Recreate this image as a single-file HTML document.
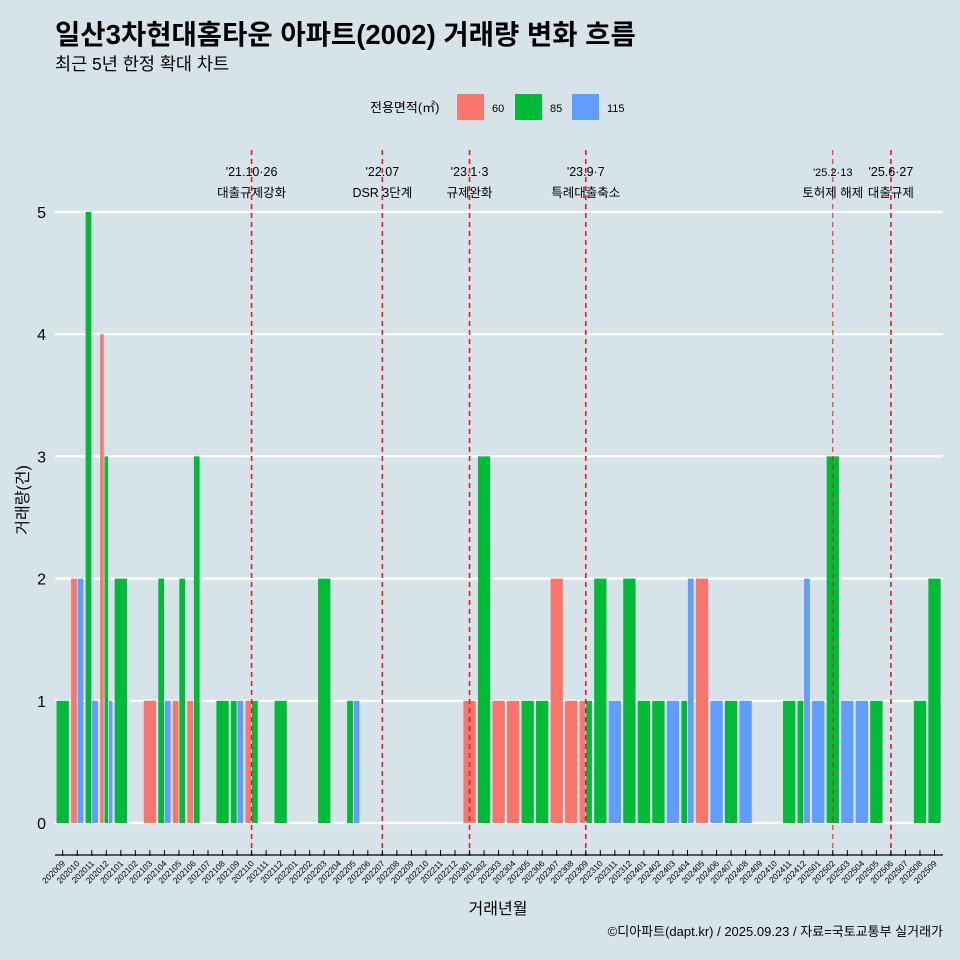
<!DOCTYPE html>
<html><head><meta charset="utf-8">
<style>
html,body{margin:0;padding:0;background:#d6e4ea;}
svg{display:block;font-family:"Liberation Sans","Noto Sans CJK KR",sans-serif;}
</style></head>
<body>
<svg id="chart" width="960" height="960" viewBox="0 0 960 960">
<rect x="0" y="0" width="960" height="960" fill="#d6e4ea"/>
<text x="55" y="44" font-size="27.5" font-weight="bold" fill="#000">일산3차현대홈타운 아파트(2002) 거래량 변화 흐름</text>
<text x="55" y="70" font-size="17.5" fill="#000">최근 5년 한정 확대 차트</text>
<g>
<text x="370" y="112" font-size="13">전용면적(㎡)</text>
<rect x="457" y="94" width="27" height="26" fill="#F8766D"/>
<text x="492" y="112" font-size="11">60</text>
<rect x="515" y="94" width="27" height="26" fill="#00BA38"/>
<text x="550" y="112" font-size="11">85</text>
<rect x="572" y="94" width="27" height="26" fill="#619CFF"/>
<text x="607" y="112" font-size="11">115</text>
</g>
<g id="grid"></g>
<g id="bars"></g>
<g id="events"></g>
<g id="axes"></g>
<text x="28" y="500" font-size="16" text-anchor="middle" transform="rotate(-90 28 500)">거래량(건)</text>
<text x="498" y="914" font-size="16" text-anchor="middle">거래년월</text>
<text x="943" y="936" font-size="13" text-anchor="end">©디아파트(dapt.kr) / 2025.09.23 / 자료=국토교통부 실거래가</text>
</svg>
<script>
const months = [];
for (let y = 2020, m = 9; !(y === 2025 && m === 10); ) { months.push(String(y) + String(m).padStart(2, '0')); m++; if (m > 12) { m = 1; y++; } }
const s60 = {"202010":2,"202012":4,"202103":1,"202105":1,"202106":1,"202110":1,"202301":1,"202303":1,"202304":1,"202307":2,"202308":1,"202309":1,"202405":2};
const s85 = {"202009":1,"202011":5,"202012":3,"202101":2,"202104":2,"202105":2,"202106":3,"202108":1,"202109":1,"202110":1,"202112":1,"202203":2,"202205":1,"202302":3,"202305":1,"202306":1,"202309":1,"202310":2,"202312":2,"202401":1,"202402":1,"202404":1,"202407":1,"202411":1,"202412":1,"202502":3,"202505":1,"202508":1,"202509":2};
const s115 = {"202010":2,"202011":1,"202012":1,"202104":1,"202109":1,"202205":1,"202311":1,"202403":1,"202404":2,"202406":1,"202408":1,"202412":2,"202501":1,"202503":1,"202504":1};
const yTicks = [0,1,2,3,4,5];
const eventMonths = ["202110","202207","202301","202309","202502","202506"];
const eventDates = ["'21.10·26","'22.07","'23.1·3","'23.9·7","'25.2·13","'25.6·27"];
const eventNames = ["대출규제강화","DSR 3단계","규제완화","특례대출축소","토허제 해제","대출규제"];

const NS = "http://www.w3.org/2000/svg";
const X0 = 62.7, STEP = 14.53, Y0 = 823, YU = 122.2;
const xs = i => X0 + STEP * i;
const ys = v => Y0 - YU * v;
function mk(tag, attrs, parent) { const e = document.createElementNS(NS, tag); for (const k in attrs) e.setAttribute(k, attrs[k]); parent.appendChild(e); return e; }
const grid = document.getElementById('grid'), bars = document.getElementById('bars'), ev = document.getElementById('events'), axes = document.getElementById('axes');

yTicks.forEach(t => {
  const l = mk('line', {x1: 55, x2: 943, y1: ys(t), y2: ys(t), stroke: '#fff', 'stroke-width': 2.2}, grid);
  
  
  const tx = mk('text', {x: 46, y: ys(t) + 6, 'font-size': 16, 'text-anchor': 'end'}, axes);
  tx.textContent = t;
  
  
});

const series = [[s60, '#F8766D', '60'], [s85, '#00BA38', '85'], [s115, '#619CFF', '115']];
const BW = STEP * 0.9;
months.forEach((m, i) => {
  const present = series.filter(s => s[0][m]);
  const w = BW / (present.length || 1);
  present.forEach((s, j) => {
    const v = s[0][m];
    const x = xs(i) - BW / 2 + w * j;
    const r = mk('rect', {x: x + 0.4, y: ys(v), width: Math.max(w - 0.8, 0.5), height: Y0 - ys(v), fill: s[1]}, bars);
    
    
  });
});

eventMonths.forEach((m, k) => {
  const x = xs(months.indexOf(m));
  const l = mk('line', {x1: x, x2: x, y1: 150, y2: 855, stroke: '#e8191c', 'stroke-width': k === 4 ? 1 : 1.6, 'stroke-dasharray': '5,4'}, ev);
  
  
  const fs = k === 4 ? 11 : 12.5;
  const t1 = mk('text', {x: x, y: 176, 'font-size': fs, 'text-anchor': 'middle'}, ev);
  t1.textContent = eventDates[k];
  
  
  const t2 = mk('text', {x: x, y: 197, 'font-size': 12.5, 'text-anchor': 'middle'}, ev);
  t2.textContent = eventNames[k];
  
  
});

const ax = mk('line', {x1: 55, x2: 943, y1: 855, y2: 855, stroke: '#000', 'stroke-width': 1.2}, axes);


months.forEach((m, i) => {
  const x = xs(i);
  const tk = mk('line', {x1: x, x2: x, y1: 850, y2: 856, stroke: '#000', 'stroke-width': 1}, axes);
  
  
  const t = mk('text', {x: x + 3, y: 864, 'font-size': 8.5, 'text-anchor': 'end', transform: 'rotate(-45 ' + (x + 3) + ' 864)'}, axes);
  t.textContent = m;
  
  
});
</script>
</body></html>
